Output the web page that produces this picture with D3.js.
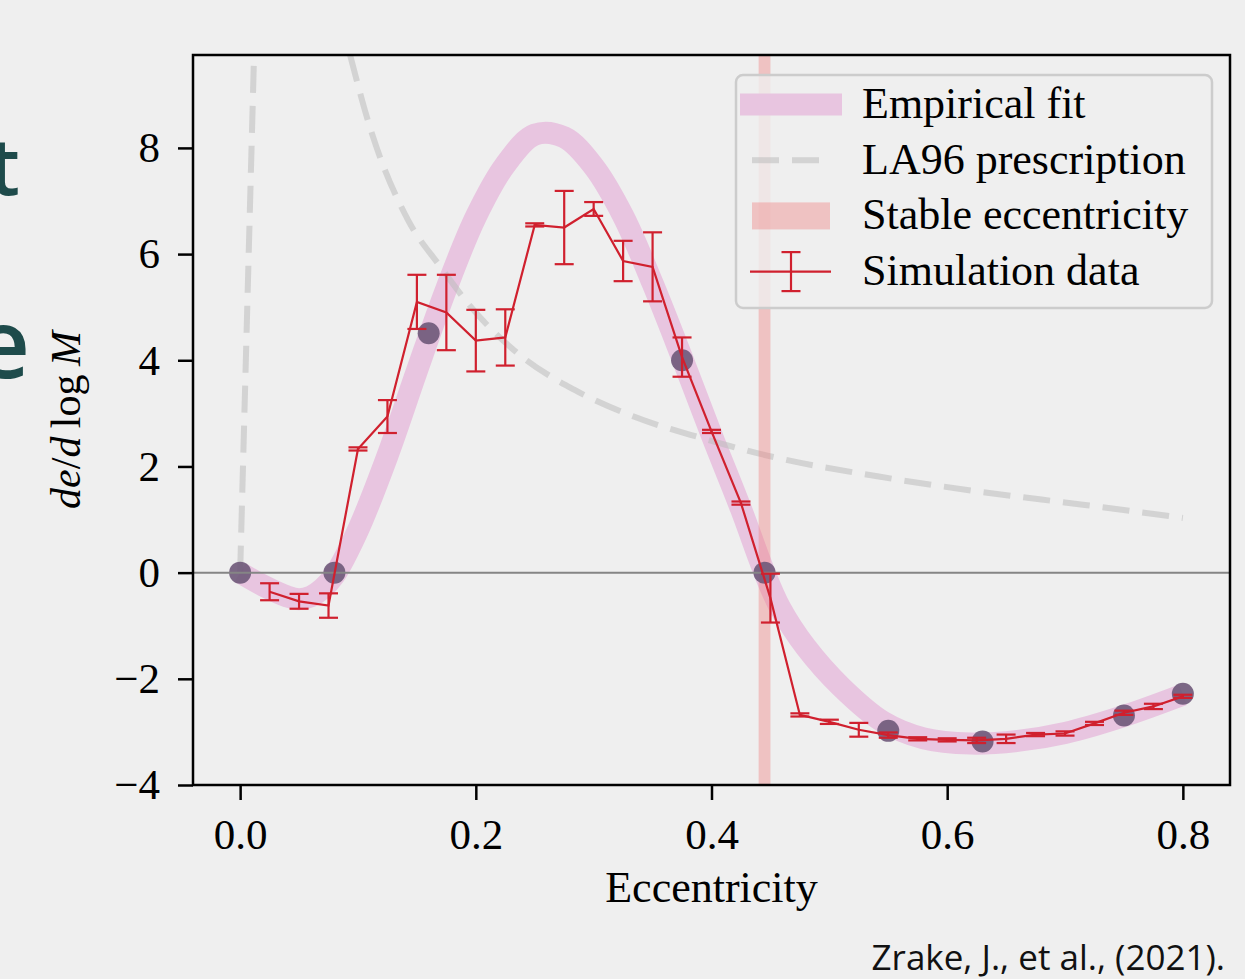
<!DOCTYPE html>
<html>
<head>
<meta charset="utf-8">
<script src="https://cdn.jsdelivr.net/npm/d3@7"></script>
<style>
    html, body { margin: 0; padding: 0; background: #efefef; }
    svg { display: block; }
</style>
</head>
<body>
<div id="chart"></div>
<script>
// simulation data (error bars)
const simE = [0.025, 0.05, 0.075, 0.1, 0.125, 0.15, 0.175, 0.2, 0.225, 0.25, 0.275, 0.3, 0.325, 0.35, 0.375, 0.4,
    0.425, 0.45, 0.475, 0.5, 0.525, 0.55, 0.575, 0.6, 0.625, 0.65, 0.675, 0.7, 0.725, 0.75, 0.775, 0.8];
const simV = [-0.36, -0.54, -0.62, 2.33, 2.94, 5.1, 4.9, 4.37, 4.43, 6.55, 6.5, 6.85, 5.87, 5.76, 4.06, 2.66,
    1.31, -0.48, -2.68, -2.81, -2.96, -3.06, -3.13, -3.15, -3.16, -3.13, -3.05, -3.03, -2.84, -2.64, -2.52, -2.33];
const simErr = [0.16, 0.14, 0.23, 0.03, 0.31, 0.51, 0.71, 0.58, 0.53, 0.03, 0.69, 0.13, 0.38, 0.65, 0.37, 0.03,
    0.03, 0.46, 0.03, 0.04, 0.13, 0.05, 0.03, 0.03, 0.05, 0.08, 0.03, 0.04, 0.03, 0.04, 0.05, 0.03];

// empirical fit
const fitE = [0, 0.02, 0.04, 0.05, 0.06, 0.07, 0.08, 0.1, 0.125, 0.15, 0.175, 0.2, 0.225, 0.25, 0.275, 0.3,
    0.325, 0.35, 0.375, 0.4, 0.425, 0.445, 0.458, 0.48, 0.51, 0.545, 0.58, 0.62, 0.66, 0.7, 0.75, 0.8];
const fitV = [0, -0.25, -0.45, -0.5, -0.45, -0.3, -0.05, 0.8, 2.2, 3.8, 5.35, 6.7, 7.68, 8.25, 8.2, 7.65,
    6.72, 5.45, 4.05, 2.6, 1.2, 0, -0.65, -1.4, -2.15, -2.8, -3.12, -3.22, -3.17, -3.02, -2.7, -2.3];

// fit knots (dark dots)
const knotE = [0, 0.08, 0.16, 0.375, 0.445, 0.55, 0.63, 0.75, 0.8];
const knotV = [0, 0, 4.51, 4.0, 0, -2.98, -3.18, -2.69, -2.28];

// LA96 prescription, null marks the jump off the top of the axes
const laE = [0, 0.0118, null, 0.0933, 0.11, 0.1425, 0.17, 0.196, 0.239, 0.283, 0.334, 0.391, 0.456, 0.542, 0.629, 0.715, 0.8];
const laV = [0, 9.75, null, 9.75, 8.4, 6.64, 5.76, 5.0, 4.07, 3.45, 2.94, 2.54, 2.16, 1.81, 1.52, 1.28, 1.03];

const stableRange = [0.44, 0.45];

const xTicks = [0, 0.2, 0.4, 0.6, 0.8];
const yTicks = [-4, -2, 0, 2, 4, 6, 8];
const legendLabels = ["Empirical fit", "LA96 prescription", "Stable eccentricity", "Simulation data"];

const width = 1245, height = 979;
const margin = { top: 55, right: 15, bottom: 194, left: 193 };
const serif = "'Liberation Serif', 'Times New Roman', serif";
const fontSize = 43;

const red = "#d0202e";
const fitColor = "#e8c5e0";
const laColor = "#bbbbbb";
const stableColor = "#f08080";

const svg = d3.select("#chart")
    .append("svg")
    .attr("width", width)
    .attr("height", height);

svg.append("rect").attr("width", width).attr("height", height).attr("fill", "#efefef");

// slide text cut off on the left
svg.append("text")
    .attr("x", 20).attr("y", 195)
    .attr("text-anchor", "end")
    .attr("font-family", "'Open Sans', sans-serif")
    .attr("font-weight", 600)
    .attr("font-size", 80)
    .attr("fill", "#1e4b4b")
    .text("t");
svg.append("text")
    .attr("x", 30).attr("y", 378)
    .attr("text-anchor", "end")
    .attr("font-family", "'Open Sans', sans-serif")
    .attr("font-weight", 600)
    .attr("font-size", 96)
    .attr("fill", "#1e4b4b")
    .text("e");

const x = d3.scaleLinear()
    .domain([-0.04, 0.84])
    .range([margin.left, width - margin.right]);

const y = d3.scaleLinear()
    .domain([-4, 9.75])
    .range([height - margin.bottom, margin.top]);

svg.append("clipPath").attr("id", "plot-clip")
    .append("rect")
    .attr("x", x.range()[0]).attr("y", y.range()[1])
    .attr("width", x.range()[1] - x.range()[0])
    .attr("height", y.range()[0] - y.range()[1]);

const plot = svg.append("g").attr("clip-path", "url(#plot-clip)");

// empirical fit band
const fitData = fitE.map((e, i) => ({ e, v: fitV[i] }));
plot.append("path")
    .datum(fitData)
    .attr("fill", "none")
    .attr("stroke", fitColor)
    .attr("stroke-width", 22)
    .attr("d", d3.line().x(d => x(d.e)).y(d => y(d.v)).curve(d3.curveCatmullRom.alpha(0.5)));

// LA96 dashed curve
const laData = laE.map((e, i) => ({ e, v: laV[i] }));
plot.append("path")
    .datum(laData)
    .attr("fill", "none")
    .attr("stroke", laColor)
    .attr("stroke-opacity", 0.55)
    .attr("stroke-width", 6)
    .attr("stroke-dasharray", "27 13")
    .attr("d", d3.line()
        .defined(d => d.e !== null)
        .x(d => x(d.e)).y(d => y(d.v))
        .curve(d3.curveMonotoneX));

// stable eccentricity span
plot.append("rect")
    .attr("x", x(stableRange[0]))
    .attr("width", x(stableRange[1]) - x(stableRange[0]))
    .attr("y", y.range()[1])
    .attr("height", y.range()[0] - y.range()[1])
    .attr("fill", stableColor)
    .attr("opacity", 0.4);

// knots
plot.selectAll(".knot")
    .data(knotE.map((e, i) => ({ e, v: knotV[i] })))
    .enter()
    .append("circle")
    .attr("class", "knot")
    .attr("cx", d => x(d.e))
    .attr("cy", d => y(d.v))
    .attr("r", 11)
    .attr("fill", "#6e5879")
    .attr("opacity", 0.9);

// zero line
plot.append("line")
    .attr("x1", x.range()[0]).attr("x2", x.range()[1])
    .attr("y1", y(0)).attr("y2", y(0))
    .attr("stroke", "#858585")
    .attr("stroke-width", 2);

// simulation data
const simData = simE.map((e, i) => ({ e, v: simV[i], err: simErr[i] }));
plot.append("path")
    .datum(simData)
    .attr("fill", "none")
    .attr("stroke", red)
    .attr("stroke-width", 2.2)
    .attr("d", d3.line().x(d => x(d.e)).y(d => y(d.v)));

const bars = plot.selectAll(".err")
    .data(simData)
    .enter()
    .append("g")
    .attr("class", "err")
    .attr("stroke", red)
    .attr("stroke-width", 2.2);
bars.append("line")
    .attr("x1", d => x(d.e)).attr("x2", d => x(d.e))
    .attr("y1", d => y(d.v - d.err)).attr("y2", d => y(d.v + d.err));
bars.selectAll(".cap")
    .data(d => [{ e: d.e, v: d.v - d.err }, { e: d.e, v: d.v + d.err }])
    .enter()
    .append("line")
    .attr("class", "cap")
    .attr("x1", d => x(d.e) - 9.5).attr("x2", d => x(d.e) + 9.5)
    .attr("y1", d => y(d.v)).attr("y2", d => y(d.v));

// axes
const xAxis = svg.append("g")
    .attr("transform", `translate(0,${y.range()[0]})`)
    .call(d3.axisBottom(x).tickValues(xTicks).tickSize(15).tickPadding(18).tickFormat(d3.format(".1f")));
const yAxis = svg.append("g")
    .attr("transform", `translate(${x.range()[0]},0)`)
    .call(d3.axisLeft(y).tickValues(yTicks).tickSize(15).tickPadding(18).tickFormat(d3.format("d")));

[xAxis, yAxis].forEach(g => {
    g.select(".domain").remove();
    g.selectAll(".tick line").attr("stroke", "#000").attr("stroke-width", 2.5);
    g.selectAll(".tick text")
        .attr("font-family", serif)
        .attr("font-size", fontSize)
        .attr("fill", "#000");
});

svg.append("rect")
    .attr("x", x.range()[0]).attr("y", y.range()[1])
    .attr("width", x.range()[1] - x.range()[0])
    .attr("height", y.range()[0] - y.range()[1])
    .attr("fill", "none")
    .attr("stroke", "#000")
    .attr("stroke-width", 2.5);

// axis labels
svg.append("text")
    .attr("x", (x.range()[0] + x.range()[1]) / 2)
    .attr("y", 902)
    .attr("text-anchor", "middle")
    .attr("font-family", serif)
    .attr("font-size", 44)
    .text("Eccentricity");

const yLabel = svg.append("text")
    .attr("transform", `translate(80,${(y.range()[0] + y.range()[1]) / 2}) rotate(-90)`)
    .attr("text-anchor", "middle")
    .attr("font-family", serif)
    .attr("font-size", 42);
yLabel.append("tspan").attr("font-style", "italic").text("de");
yLabel.append("tspan").text("/");
yLabel.append("tspan").attr("font-style", "italic").text("d");
yLabel.append("tspan").text("\u2009log\u2009");
yLabel.append("tspan").attr("font-style", "italic").text("M");

// legend
const legend = svg.append("g");
legend.append("rect")
    .attr("x", 736).attr("y", 75)
    .attr("width", 476).attr("height", 233)
    .attr("rx", 7)
    .attr("fill", "#efefef")
    .attr("fill-opacity", 0.8)
    .attr("stroke", "#cccccc")
    .attr("stroke-width", 2.5);

const rowY = legendLabels.map((d, i) => 104.5 + i * 55.7);

legend.append("line")
    .attr("x1", 740).attr("x2", 842)
    .attr("y1", rowY[0]).attr("y2", rowY[0])
    .attr("stroke", fitColor).attr("stroke-width", 22);
legend.append("line")
    .attr("x1", 752).attr("x2", 830)
    .attr("y1", rowY[1]).attr("y2", rowY[1])
    .attr("stroke", laColor).attr("stroke-opacity", 0.55)
    .attr("stroke-width", 6).attr("stroke-dasharray", "27 13");
legend.append("rect")
    .attr("x", 752).attr("y", rowY[2] - 13.5)
    .attr("width", 78).attr("height", 27)
    .attr("fill", stableColor).attr("opacity", 0.4);
const simKey = legend.append("g").attr("stroke", red).attr("stroke-width", 2.2);
simKey.append("line").attr("x1", 750).attr("x2", 831).attr("y1", rowY[3]).attr("y2", rowY[3]);
simKey.append("line").attr("x1", 791).attr("x2", 791).attr("y1", rowY[3] - 19.5).attr("y2", rowY[3] + 19.5);
simKey.append("line").attr("x1", 781.5).attr("x2", 800.5).attr("y1", rowY[3] - 19.5).attr("y2", rowY[3] - 19.5);
simKey.append("line").attr("x1", 781.5).attr("x2", 800.5).attr("y1", rowY[3] + 19.5).attr("y2", rowY[3] + 19.5);

legend.selectAll(".legend-label")
    .data(legendLabels)
    .enter()
    .append("text")
    .attr("class", "legend-label")
    .attr("x", 862)
    .attr("y", (d, i) => rowY[i] + 13.5)
    .attr("font-family", serif)
    .attr("font-size", 44)
    .text(d => d);

// citation
svg.append("text")
    .attr("x", 1225).attr("y", 970)
    .attr("text-anchor", "end")
    .attr("font-family", "'Open Sans', sans-serif")
    .attr("font-weight", 500)
    .attr("font-size", 35)
    .attr("fill", "#111")
    .text("Zrake, J., et al., (2021).");
</script>
</body>
</html>
